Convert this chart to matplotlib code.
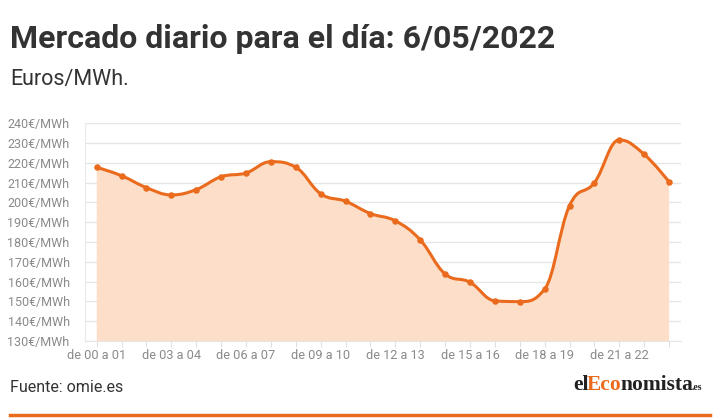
import numpy as np
import matplotlib
matplotlib.use("Agg")
import matplotlib.pyplot as plt
from matplotlib.path import Path
from matplotlib.patches import PathPatch

plt.rcParams['font.family'] = ['Roboto', 'DejaVu Sans']

hours = [f"de {h:02d} a {h+1:02d}" for h in range(24)]
prices = [217.8, 213.5, 207.5, 203.8, 206.5, 213.0, 214.9, 220.6, 217.8, 204.4,
          200.6, 194.4, 190.7, 181.1, 163.9, 159.7, 150.3, 149.9, 156.2, 198.4,
          210.0, 231.6, 224.3, 210.4]
yticks = list(range(130, 250, 10))

title = "Mercado diario para el día: 6/05/2022"
subtitle = "Euros/MWh."
source = "Fuente: omie.es"
logo_parts = [("el", "#222222", 15.5), ("Eco", None, 15.5), ("nomista", "#222222", 15.5), (".es", "#222222", 7)]

LINE = "#ea6b1d"
FILL = "#fddfc9"


def spline_path(xs, ys, smoothing=1.5):
    verts = [(xs[0], ys[0])]
    codes = [Path.MOVETO]
    n = len(xs)
    ctrl = []
    for i in range(n):
        if 0 < i < n - 1:
            lx, ly = xs[i - 1], ys[i - 1]
            nx, ny = xs[i + 1], ys[i + 1]
            denom = smoothing + 1
            lcx = (smoothing * xs[i] + lx) / denom
            lcy = (smoothing * ys[i] + ly) / denom
            rcx = (smoothing * xs[i] + nx) / denom
            rcy = (smoothing * ys[i] + ny) / denom
            corr = ((rcy - lcy) * (rcx - xs[i])) / (rcx - lcx) + ys[i] - rcy
            lcy += corr
            rcy += corr
            if lcy > max(ly, ys[i]):
                lcy = max(ly, ys[i]); rcy = 2 * ys[i] - lcy
            elif lcy < min(ly, ys[i]):
                lcy = min(ly, ys[i]); rcy = 2 * ys[i] - lcy
            if rcy > max(ny, ys[i]):
                rcy = max(ny, ys[i]); lcy = 2 * ys[i] - rcy
            elif rcy < min(ny, ys[i]):
                rcy = min(ny, ys[i]); lcy = 2 * ys[i] - rcy
            ctrl.append(((lcx, lcy), (rcx, rcy)))
        else:
            ctrl.append(((xs[i], ys[i]), (xs[i], ys[i])))
    for i in range(1, n):
        verts += [ctrl[i - 1][1], ctrl[i][0], (xs[i], ys[i])]
        codes += [Path.CURVE4] * 3
    return verts, codes


fig = plt.figure(figsize=(7.2, 4.2), dpi=100)
ax = fig.add_axes([85 / 720, (420 - 341) / 420, (681 - 85) / 720, (341 - 123.3) / 420])

x = np.arange(len(prices))
verts, codes = spline_path(list(x.astype(float)), prices)

fverts = verts + [(x[-1], 130), (x[0], 130), verts[0]]
fcodes = codes + [Path.LINETO, Path.LINETO, Path.CLOSEPOLY]
ax.add_patch(PathPatch(Path(fverts, fcodes), facecolor=FILL, edgecolor='none', zorder=1))
ax.add_patch(PathPatch(Path(verts, codes), facecolor='none', edgecolor=LINE, lw=2.2, zorder=3))
ax.scatter(x, prices, s=22, color=LINE, zorder=4, linewidths=0)

ax.set_xlim(-0.47, 23.48)
ax.set_ylim(130, 240)
ax.set_yticks(yticks)
ax.set_yticklabels([f"{v}€/MWh" for v in yticks])
ax.set_xticks(x)
ax.set_xticklabels([h if i % 3 == 0 else "" for i, h in enumerate(hours)])
ax.grid(axis='y', color='#e6e6e6', lw=1, zorder=0)
ax.set_axisbelow(True)
for s in ['top', 'right']:
    ax.spines[s].set_visible(False)
ax.spines['left'].set_color('#ebebeb')
ax.spines['bottom'].set_color('#e6e6e6')
ax.tick_params(axis='y', length=0, pad=11, labelsize=9, labelcolor='#8a8a8a')
ax.tick_params(axis='x', length=4, color='#e0e0e0', pad=2, labelsize=9.2, labelcolor='#8a8a8a')

fig.text(10 / 720, 1 - 39 / 420, title, fontsize=23, fontweight='bold', color='#333333', va='center')
fig.text(10 / 720, 1 - 80 / 420, subtitle, fontsize=15.5, color='#333333', va='center')
fig.text(10 / 720, 1 - 387 / 420, source, fontsize=11.5, color='#333333', va='center')

# logo, placed sequentially
fig.canvas.draw()
renderer = fig.canvas.get_renderer()
xpos = 573
for txt, col, fs in logo_parts:
    t = fig.text(xpos / 720, 1 - 390 / 420, txt, fontsize=fs, fontweight='bold',
                 family='Liberation Serif', color=col if col else LINE,
                 va='baseline', ha='left')
    bb = t.get_window_extent(renderer)
    xpos += bb.width - 1.5

fig.add_artist(plt.Line2D([10 / 720, 710 / 720], [1 - 415 / 420, 1 - 415 / 420], color=LINE, lw=2.5))

fig.savefig("out.png", dpi=100, facecolor='white')
